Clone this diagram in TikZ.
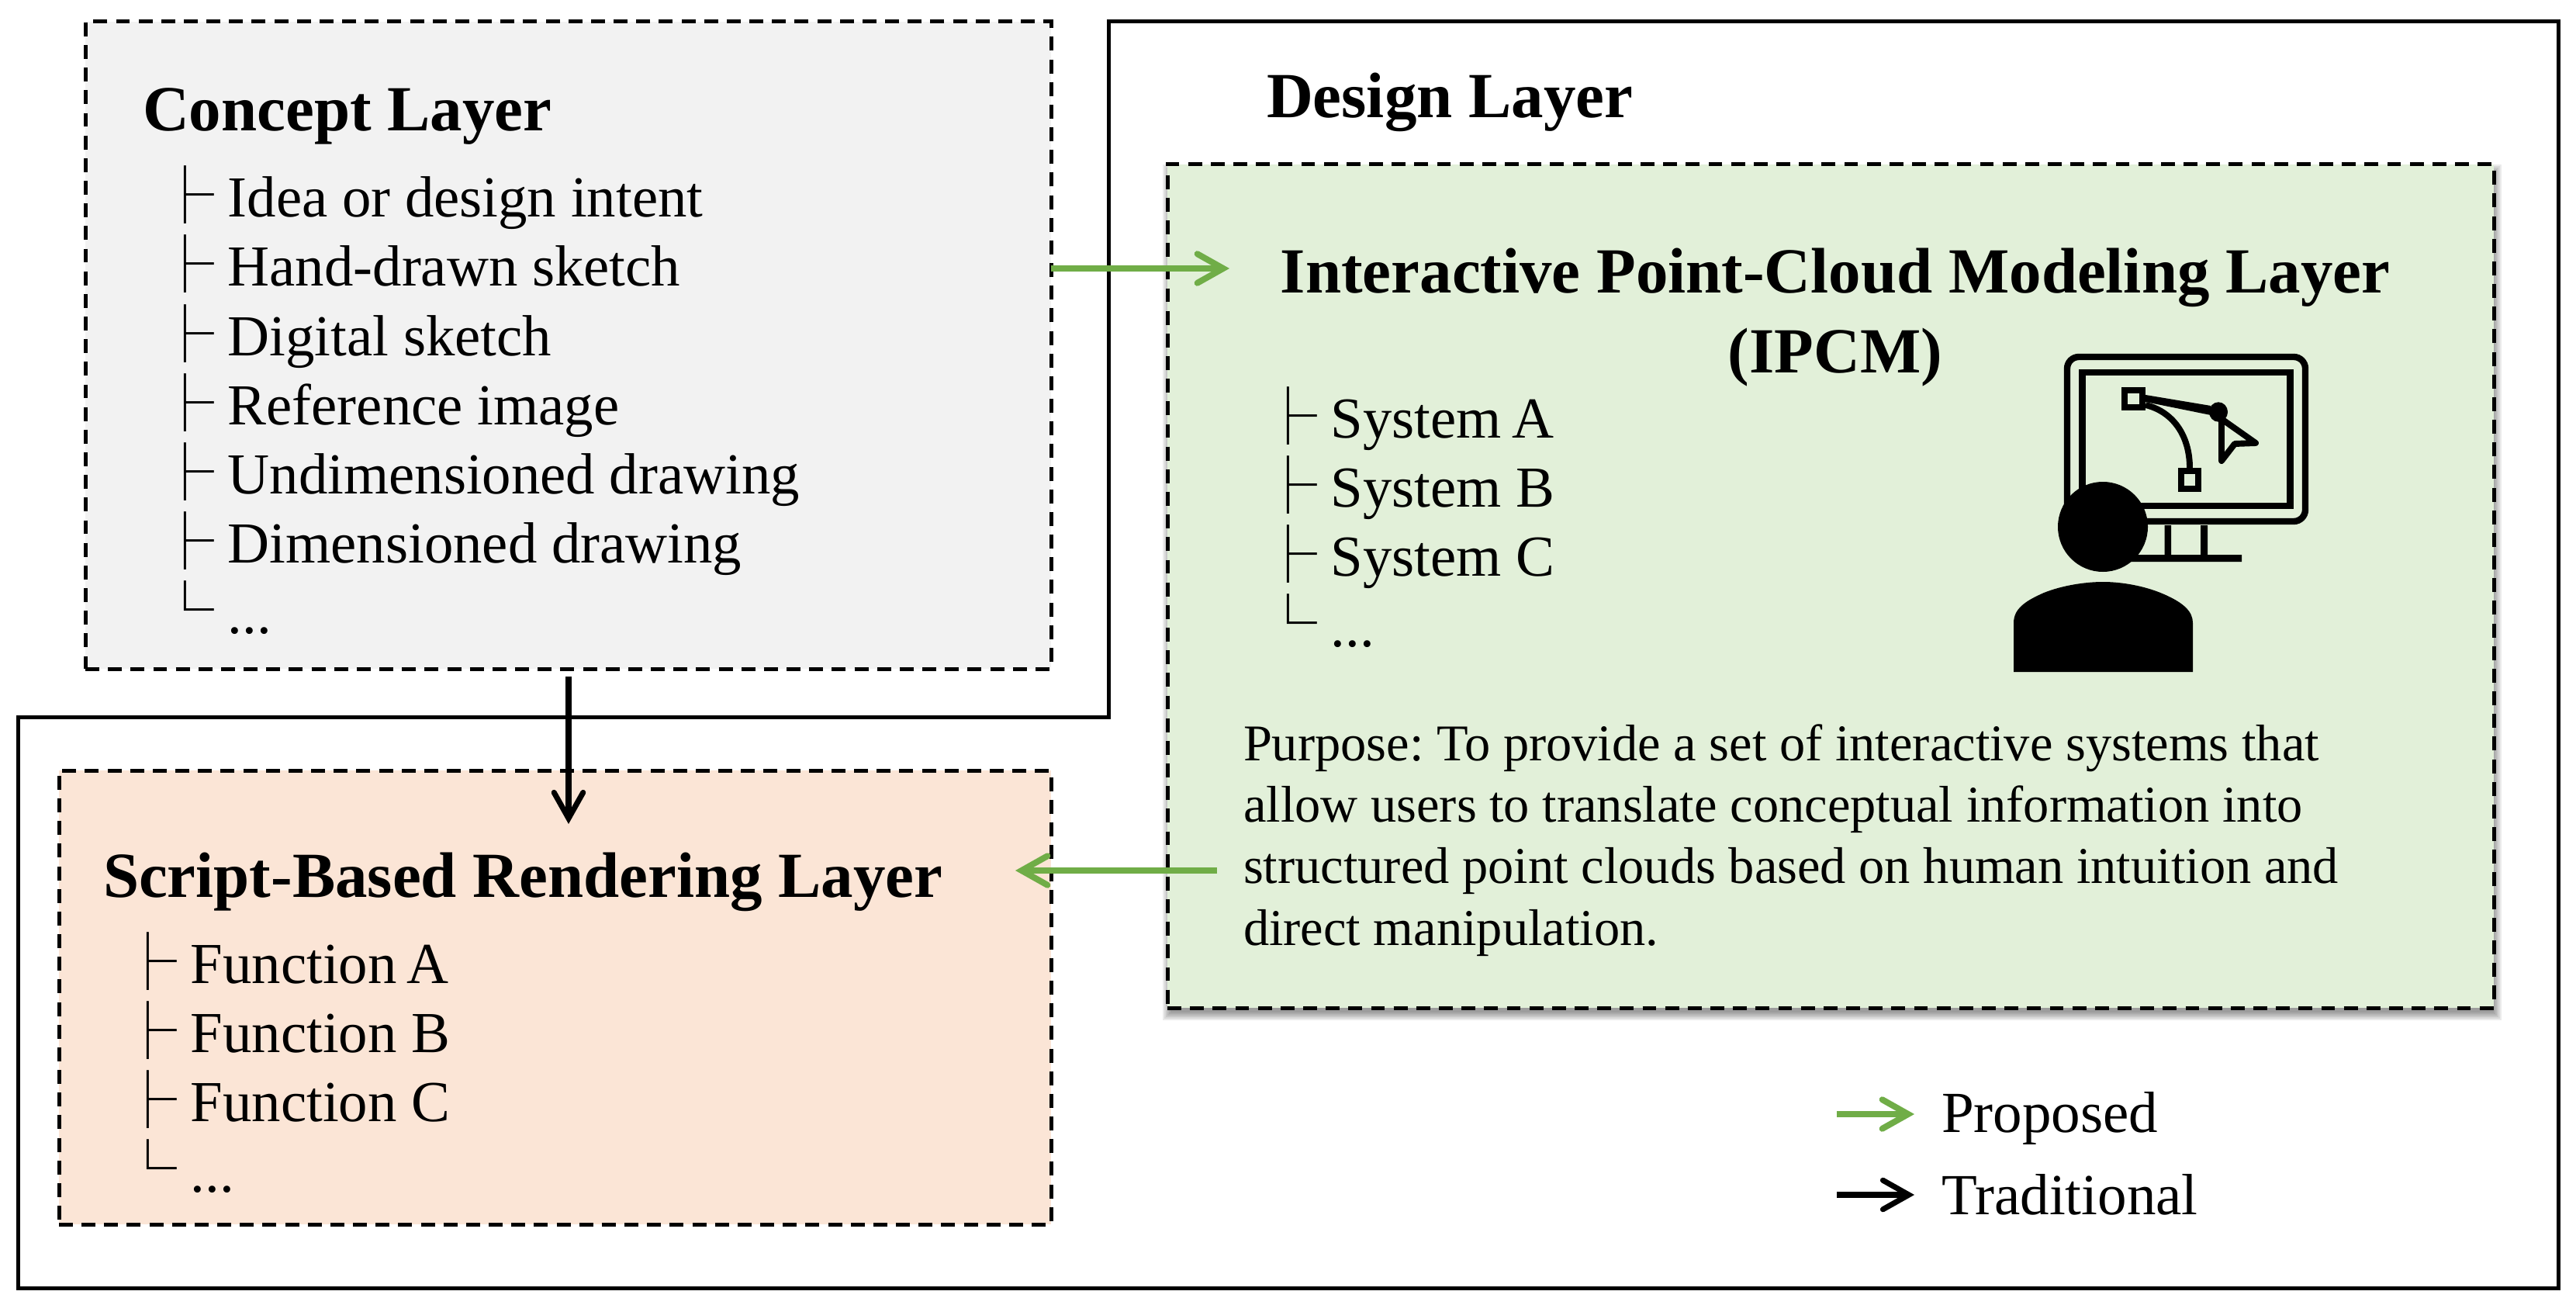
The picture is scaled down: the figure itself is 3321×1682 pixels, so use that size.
\documentclass[tikz,border=0pt]{standalone}
\usepackage{fontspec}
\setmainfont{Liberation Serif}
\newfontfamily\treefont{Noto Sans CJK SC}
\usetikzlibrary{arrows.meta}
\definecolor{propgreen}{HTML}{70AD47}
\definecolor{conceptfill}{HTML}{F2F2F2}
\definecolor{scriptfill}{HTML}{FBE5D6}
\definecolor{ipcmfill}{HTML}{E2F0D9}
\newcommand{\bodysize}{\fontsize{17.95}{20}\selectfont\frenchspacing}
\newcommand{\headsize}{\fontsize{19.9}{24}\selectfont\bfseries}
\newcommand{\purposesize}{\fontsize{15.95}{19}\selectfont\frenchspacing}
\newcommand{\legendsize}{\fontsize{18}{20}\selectfont}
\newcommand{\treemid}{{\treefont ├}\hspace{4.3pt}}
\newcommand{\treeend}{{\treefont └}\hspace{4.3pt}}
\tikzset{
  x=0.24pt,y=-0.24pt,
  layerbox/.style={draw=black,line width=1.2pt,dash pattern=on 4.3pt off 2.7pt,rectangle,inner sep=0pt,outer sep=0pt,anchor=north west},
  frameline/.style={draw=black,line width=1.2pt,line join=miter},
  txt/.style={anchor=base west,inner sep=0pt,outer sep=0pt},
  item/.style={txt,font=\bodysize},
  head/.style={txt,font=\headsize},
  purp/.style={txt,font=\purposesize},
  greenarrow/.style={draw=propgreen,line width=1.9pt,-{Straight Barb[length=8pt,width=9pt,line cap=round]}},
  blackarrow/.style={draw=black,line width=1.7pt,-{Straight Barb[length=8pt,width=9pt,line cap=round]}},
  icon/.style={draw=black,line width=2pt},
}
\begin{document}
\begin{tikzpicture}
\useasboundingbox (0,0) rectangle (3321,1682);
% Design layer frame
\coordinate (f1) at (1429,28);
\coordinate (f2) at (3298,28);
\coordinate (f3) at (3298,1660);
\coordinate (f4) at (23,1660);
\coordinate (f5) at (23,924);
\coordinate (f6) at (1429,924);
\draw[frameline] (f1) -- (f2) -- (f3) -- (f4) -- (f5) -- (f6) -- cycle;
% shadow of the green box
\foreach \g in {8,6,4,2,0,-2}{
  \fill[black,opacity=0.08] (1505-\g+2,212-\g+8) rectangle (3215+\g+2,1299+\g+8);
}
% boxes
\node[layerbox,fill=conceptfill,minimum width=1245*0.24pt,minimum height=834*0.24pt] (concept) at (110,28) {};
\node[layerbox,fill=scriptfill,minimum width=1279*0.24pt,minimum height=585*0.24pt] (script) at (76,993) {};
\node[layerbox,fill=ipcmfill,minimum width=1710*0.24pt,minimum height=1087*0.24pt] (ipcm) at (1505,212) {};
% concept text
\node[head] (c0) at (184,169) {Concept Layer};
\node[item] (c1) at (201,280) {\treemid Idea or design intent};
\node[item] (c2) at (201,369) {\treemid Hand-drawn sketch};
\node[item] (c3) at (201,458) {\treemid Digital sketch};
\node[item] (c4) at (201,547) {\treemid Reference image};
\node[item] (c5) at (201,636) {\treemid Undimensioned drawing};
\node[item] (c6) at (201,725) {\treemid Dimensioned drawing};
\node[item] (c7) at (201,814) {\treeend\raisebox{-0.7pt}{...}};
% design text
\node[head] (d0) at (1633,152) {Design Layer};
\node[head,anchor=base] (i0) at (2366,378) {Interactive Point-Cloud Modeling Layer};
\node[head,anchor=base] (i1) at (2366,480) {(IPCM)};
\node[item] (s1) at (1623,564) {\treemid System\kern-1.3pt{} A};
\node[item] (s2) at (1623,653) {\treemid System B};
\node[item] (s3) at (1623,742) {\treemid System C};
\node[item] (s4) at (1623,831) {\treeend\raisebox{-0.7pt}{...}};
\node[purp] (p1) at (1603,980) {Purpose: To provide a set of interactive systems that};
\node[purp] (p2) at (1603,1059) {allow users to translate conceptual information into};
\node[purp] (p3) at (1603,1138) {structured point clouds based on human intuition and};
\node[purp] (p4) at (1603,1218) {direct manipulation.};
% script text
\node[head] (r0) at (133,1156) {Script-Based Rendering Layer};
\node[item] (r1) at (153,1267) {\treemid Function\kern-1.3pt{} A};
\node[item] (r2) at (153,1356) {\treemid Function B};
\node[item] (r3) at (153,1445) {\treemid Function C};
\node[item] (r4) at (153,1534) {\treeend\raisebox{-0.7pt}{...}};
% icon
\draw[icon,rounded corners=3.6pt] (2665,460) rectangle (2972,672);
\draw[icon] (2684.5,480) rectangle (2952.5,652);
\draw[icon] (2739,503) rectangle (2762,525);
\draw[icon] (2812,607) rectangle (2834,630);
\fill (2766,509) -- (2850,523) -- (2850,535) -- (2766,518) -- cycle;
\fill (2860,531) circle [x radius=12,y radius=12.7];
\draw[icon,line width=1.9pt] (2766,522) .. controls (2800,530) and (2823,560) .. (2823,603);
\draw[icon,line width=1.9pt,line join=round] (2864,540) -- (2864,594) -- (2881,572) -- (2908,571) -- cycle;
\fill (2790.6,677) rectangle (2799,716) (2837,677) rectangle (2846,716) (2720,715) rectangle (2890,724);
\fill (2711,679) circle [x radius=58,y radius=58];
\fill (2596,866) -- (2596,803) .. controls (2596,785) and (2610,775) .. (2635,764)
  .. controls (2660,754) and (2690,750) .. (2711,750)
  .. controls (2735,750) and (2765,755) .. (2790,766)
  .. controls (2815,777) and (2827,788) .. (2827,803) -- (2827,866) -- cycle;
% connectors
\coordinate (ga) at (concept.east |- 0,346);
\coordinate (gb) at (1585,346);
\coordinate (gc) at (1569,1122);
\coordinate (gd) at (1309,1122);
\coordinate (ba) at (733,872);
\coordinate (bb) at (733,1062);
\draw[greenarrow] (ga) -- (gb);
\draw[greenarrow] (gc) -- (gd);
\draw[blackarrow] (ba) -- (bb);
% legend
\coordinate (la) at (2368,1436);
\coordinate (lb) at (2468,1436);
\coordinate (lc) at (2368,1540);
\coordinate (ld) at (2468,1540);
\draw[greenarrow] (la) -- (lb);
\draw[blackarrow] (lc) -- (ld);
\node[txt,font=\legendsize] (l1) at (2503,1459) {Proposed};
\node[txt,font=\legendsize] (l2) at (2503,1565) {Traditional};
\end{tikzpicture}
\end{document}
